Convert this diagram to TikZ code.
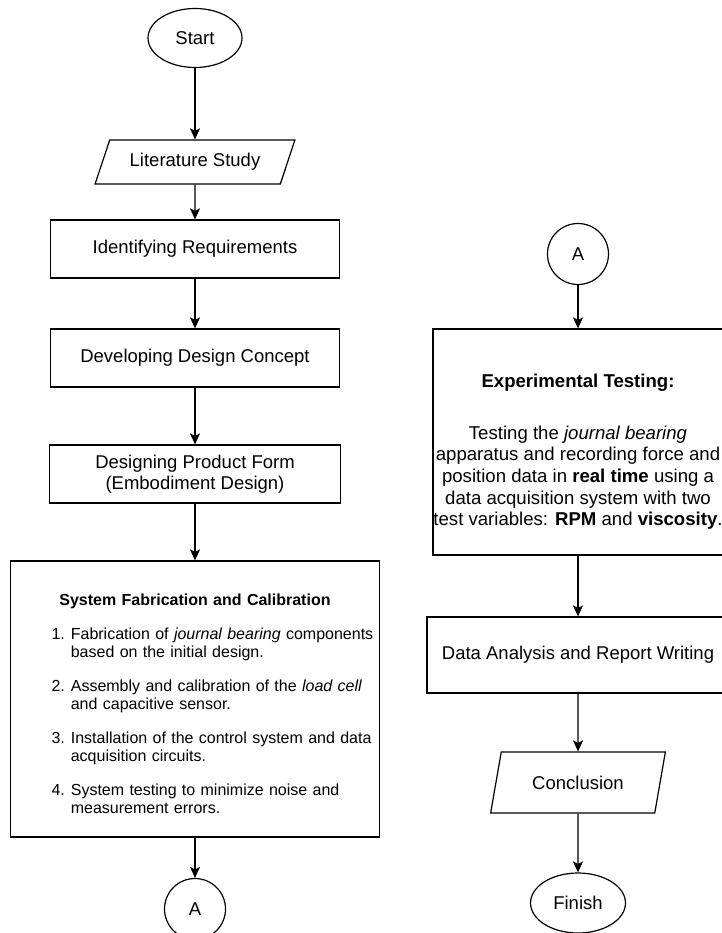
\documentclass[tikz,border=0pt]{standalone}
\usepackage{fontspec}
\setmainfont{Liberation Sans}
\usetikzlibrary{shapes.geometric,arrows.meta}

\tikzset{
  flow/.style={draw=black, line width=1.2pt, text=black, font=\fontsize{18.5}{21}\selectfont, align=center},
  terminal/.style={flow, ellipse, minimum width=94pt, minimum height=59pt, inner sep=0pt},
  process/.style={flow, rectangle, inner sep=2pt},
  io/.style={flow, trapezium, trapezium stretches=true, inner sep=0pt},
  offpage/.style={flow, circle, minimum size=61pt, inner sep=0pt},
  link/.style={line width=1.2pt, -{Stealth[length=11pt,width=10pt,inset=2.5pt]}},
}

\begin{document}
\begin{tikzpicture}[x=1pt,y=-1pt]
    \useasboundingbox (0,0) rectangle (721,933);
    % left column
    \node[terminal] (start) at (195,38) {Start};
    \node[io, trapezium left angle=57, trapezium right angle=123, minimum width=200pt, minimum height=44pt] (lit) at (195,162) {Literature Study};
    \node[process, minimum width=289pt, minimum height=58pt] (req) at (195,249) {Identifying Requirements};
    \node[process, minimum width=289pt, minimum height=58pt] (concept) at (195,358) {Developing Design Concept};
    \node[process, minimum width=291pt, minimum height=58pt] (form) at (195,474) {Designing Product Form\\(Embodiment Design)};
    \node[process, minimum width=369pt, minimum height=276pt, text width=357pt, align=left, font=\fontsize{16}{17.7}\selectfont] (fab) at (195,699) {%
      {\centering\rule{0pt}{26pt}\textbf{System Fabrication and Calibration}\par}
      \vspace{17pt}
      \hspace*{35pt}\begin{tabular}{@{}r@{\hspace{6pt}}l@{}}
        1. & Fabrication of \textit{journal bearing} components\\
           & based on the initial design.\\[16.6pt]
        2. & Assembly and calibration of the \textit{load cell}\\
           & and capacitive sensor.\\[16.6pt]
        3. & Installation of the control system and data\\
           & acquisition circuits.\\[16.6pt]
        4. & System testing to minimize noise and\\
           & measurement errors.
      \end{tabular}};
    \node[offpage] (linka) at (195,909) {A};
    % right column
    \node[offpage] (linkb) at (578,254) {A};
    \node[process, minimum width=290pt, minimum height=226pt, inner xsep=0pt, font=\fontsize{18.6}{21.7}\selectfont] (exp) at (578,442) {%
      \rule{0pt}{33pt}\textbf{Experimental Testing:}\\[30pt]
      Testing the \textit{journal bearing}\\
      apparatus and recording force and\\
      position data in \textbf{real time} using a\\
      data acquisition system with two\\
      test variables: \textbf{RPM} and \textbf{viscosity}.};
    \node[process, minimum width=302pt, minimum height=76pt] (ana) at (578,655) {Data Analysis and Report Writing};
    \node[io, trapezium left angle=65, trapezium right angle=115, minimum width=175pt, minimum height=61pt] (concl) at (578,782.5) {Conclusion};
    \node[terminal, minimum width=95pt, minimum height=60pt] (finish) at (578,903) {Finish};
    % arrows
    \draw[link] (start) -- (lit);
    \draw[link] (lit) -- (req);
    \draw[link] (req) -- (concept);
    \draw[link] (concept) -- (form);
    \draw[link] (form) -- (fab);
    \draw[link] (fab) -- (linka);
    \draw[link] (linkb) -- (exp);
    \draw[link] (exp) -- (ana);
    \draw[link] (ana) -- (concl);
    \draw[link] (concl) -- (finish);
\end{tikzpicture}
\end{document}
